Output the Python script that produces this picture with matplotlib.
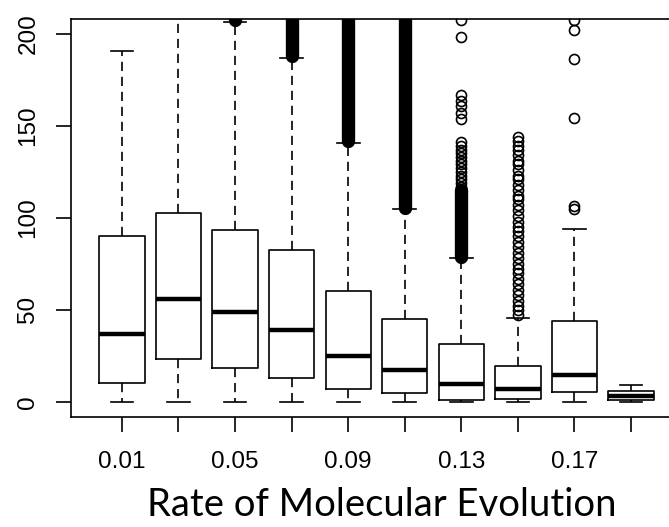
import matplotlib
matplotlib.use('Agg')
import matplotlib.pyplot as plt

plt.rcParams['font.family'] = ['Liberation Sans', 'DejaVu Sans']

# categories (rate of molecular evolution)
rates = ['0.01', '0.03', '0.05', '0.07', '0.09',
         '0.11', '0.13', '0.15', '0.17', '0.19']
shown_labels = ['0.01', '0.05', '0.09', '0.13', '0.17']

# five-number summaries
whis_lo = [0, 0, 0, 0, 0, 0, 0, 0, 0, 0]
q1 = [10.5, 23.6, 18.2, 13.0, 7.3, 4.9, 1.3, 1.8, 5.4, 1.3]
medians = [36.8, 55.8, 48.8, 39.0, 24.8, 17.2, 10.0, 6.9, 14.5, 3.1]
q3 = [90.2, 102.4, 93.5, 82.8, 60.3, 44.8, 31.7, 19.4, 43.9, 5.8]
whis_hi = [190.4, 240.0, 206.5, 186.6, 140.4, 104.6, 78.0, 45.5, 94.0, 9.4]

# individually visible outliers
outliers = [
    [],
    [],
    [],
    [],
    [],
    [],
    [207.5, 198.5, 166.5, 163.5, 160.5, 157, 153.5, 141, 139, 137, 135,
     133, 131, 129, 127, 125, 123, 121, 119, 117],
    [144, 142, 139, 137, 134, 131, 129, 126, 123, 121, 118, 115, 112, 110,
     107, 104, 101, 98, 95, 93, 90, 87, 84, 81, 78, 75, 72, 70, 67, 64,
     61, 58, 55, 52, 50, 47],
    [207.5, 202, 186.5, 154, 106.5, 105],
    [],
]

# runs of outliers so dense they print as a solid black column (lo, hi)
dense_runs = [None, None, (207.5, 230), (188, 230), (141.5, 230),
              (105.5, 230), (79, 115), None, None, None]

positions = list(range(1, len(rates) + 1))

stats = []
for i in range(len(rates)):
    stats.append({'whislo': whis_lo[i], 'q1': q1[i], 'med': medians[i],
                  'q3': q3[i], 'whishi': whis_hi[i], 'fliers': outliers[i]})

fig = plt.figure(figsize=(6.69, 5.27), dpi=100)
ax = fig.add_axes([0.1061, 0.2093, 0.9133, 0.7546])

lw = 1.2
ax.bxp(stats, positions=positions, widths=0.8, capwidths=0.4,
       boxprops=dict(color='black', linewidth=lw),
       medianprops=dict(color='black', linewidth=3.2, solid_capstyle='butt'),
       whiskerprops=dict(color='black', linewidth=lw,
                         linestyle=(0, (5.5, 3.5))),
       capprops=dict(color='black', linewidth=lw),
       flierprops=dict(marker='o', markersize=7.2, markerfacecolor='none',
                       markeredgecolor='black', markeredgewidth=1.2))

for pos, run in zip(positions, dense_runs):
    if run is not None:
        ax.plot([pos, pos], [run[0], run[1]], color='black', linewidth=9.6,
                solid_capstyle='round', zorder=3)

ax.set_xlim(0.1, 10.9)
ax.set_ylim(-8, 208)

ax.set_xticks(positions)
ax.set_xticklabels([r if r in shown_labels else '' for r in rates])
ax.set_yticks([0, 50, 100, 150, 200])
ax.set_yticklabels(['0', '50', '100', '150', '200'], rotation=90,
                   va='center')

ax.tick_params(axis='both', direction='out', length=10.8, width=lw,
               labelsize=17.5, color='black')
ax.tick_params(axis='x', pad=14)
ax.tick_params(axis='y', pad=12)

for sp in ax.spines.values():
    sp.set_linewidth(lw)

fig.text(382 / 669, 11 / 527, 'Rate of Molecular Evolution',
         ha='center', va='baseline', fontsize=27.5, family=['Lato'])

fig.savefig('out.png', dpi=100)
